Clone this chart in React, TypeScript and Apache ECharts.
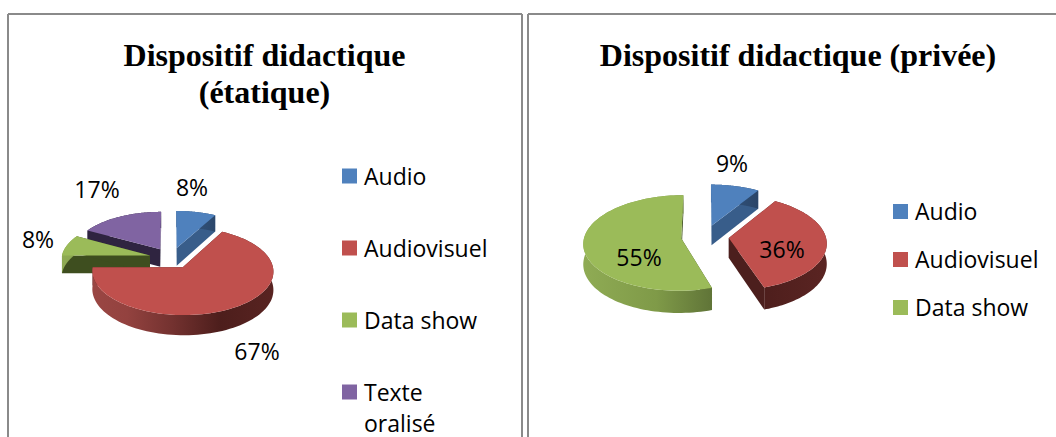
import React, { useEffect, useRef } from "react";
import * as echarts from "echarts";

const titleLeft = "Dispositif didactique\n(étatique)";
const titleRight = "Dispositif didactique (privée)";
const categoriesLeft = ["Audio", "Audiovisuel", "Data show", "Texte\noralisé"];
const valuesLeft = [8, 67, 8, 17];
const categoriesRight = ["Audio", "Audiovisuel", "Data show"];
const valuesRight = [9, 36, 55];

const TOP: Record<string, string> = { Audio: "#4f81bd", Audiovisuel: "#c0504d", "Data show": "#9bbb59", "Texte\noralisé": "#8064a2" };
const CUT: Record<string, string> = { Audio: "#385d8a", Audiovisuel: "#4c1f1d", "Data show": "#3e4e1f", "Texte\noralisé": "#2f2440" };
const RIM: Record<string, string[]> = {
  Audio: ["#4f81bd", "#385d8a", "#385d8a", "#2a4568", "#2a4568"],
  Audiovisuel: ["#a04a47", "#93423f", "#743230", "#4d1e1c", "#5a2422"],
  "Data show": ["#8fab54", "#7f9a48", "#64793a", "#465726", "#3e4e1f"],
  "Texte\noralisé": ["#2f2440", "#2f2440", "#2f2440", "#2f2440", "#2f2440"],
};
const RIM_AT = [0, 0.3, 0.5, 0.72, 1];

type Panel = {
  cx: number; cy: number; a: number; b: number; p: number; depth: number; explode: number;
  names: string[]; values: number[]; labels: number[][];
};

const panelLeft: Panel = {
  cx: 171.3, cy: 258, a: 88.5, b: 42, p: 0.087, depth: 18, explode: 0.25,
  names: categoriesLeft, values: valuesLeft,
  labels: [[192, 187], [257, 351], [38, 239], [97, 189]],
};
const panelRight: Panel = {
  cx: 705, cy: 236.6, a: 97, b: 47, p: 0.095, depth: 20, explode: 0.2465,
  names: categoriesRight, values: valuesRight,
  labels: [[732, 163], [782, 249], [639, 257]],
};

function project(P: Panel, u: number, v: number, down = false): number[] {
  const f = 1 / (1 + P.p * v);
  return [P.cx + P.a * u * f, P.cy - P.b * v * f + (down ? P.depth * f : 0)];
}

function sliceRenderer(P: Panel) {
  const total = P.values.reduce((s, v) => s + v, 0);
  return (params: any, api: any) => {
    const i = params.dataIndex;
    const val = api.value(0) as number;
    let before = 0;
    for (let k = 0; k < i; k++) before += P.values[k];
    const t0 = (before / total) * Math.PI * 2;
    const t1 = ((before + val) / total) * Math.PI * 2;
    const mid = (t0 + t1) / 2;
    const ou = P.explode * Math.sin(mid);
    const ov = P.explode * Math.cos(mid);
    const name = P.names[i];
    const top: number[][] = [];
    const rim: number[][] = [];
    const bottom: number[][] = [];
    const N = 96;
    for (let k = 0; k <= N; k++) {
      const t = t0 + ((t1 - t0) * k) / N;
      const u = ou + Math.sin(t);
      const v = ov + Math.cos(t);
      top.push(project(P, u, v));
      bottom.push(project(P, u, v, true));
    }
    rim.push(...top, ...bottom.slice().reverse());
    const apex = project(P, ou, ov);
    const apexDown = project(P, ou, ov, true);
    const base = 100 * Math.cos(mid) * -1;
    const z = 110 + Math.round(base);
    const x0 = P.cx - P.a * 1.25;
    const x1 = P.cx + P.a * 1.25;
    const grad = new echarts.graphic.LinearGradient(
      x0, 0, x1, 0,
      RIM[name].map((color, k) => ({ offset: RIM_AT[k], color })),
      true
    );
    const cutA = [apex, top[0], bottom[0], apexDown];
    const cutB = [apex, top[N], bottom[N], apexDown];
    return {
      type: "group",
      children: [
        { type: "polygon", z2: z, shape: { points: cutA }, style: { fill: CUT[name] } },
        { type: "polygon", z2: z, shape: { points: cutB }, style: { fill: CUT[name] } },
        { type: "polygon", z2: z + 1, shape: { points: rim }, style: { fill: grad } },
        { type: "polygon", z2: z + 2, shape: { points: [apex, ...top] }, style: { fill: TOP[name] } },
        {
          type: "text", z2: 500,
          x: P.labels[i][0], y: P.labels[i][1],
          style: {
            text: val + "%", fill: "#000", font: "23px 'Open Sans'",
            align: "center", verticalAlign: "middle",
          },
        },
      ],
    };
  };
}

function pieSeries(P: Panel, id: string) {
  return {
    type: "custom", id, coordinateSystem: "none", silent: true,
    data: P.values.map((v, i) => ({ name: P.names[i], value: [v] })),
    renderItem: sliceRenderer(P),
  };
}

function legend(names: string[], x: number, ys: number[]) {
  const out: any[] = [];
  names.forEach((n, i) => {
    out.push({ type: "rect", x, y: ys[i] - 7.5, shape: { width: 15, height: 15 }, style: { fill: TOP[n] } });
    out.push({
      type: "text", x: x + 22, y: ys[i] - 16,
      style: { text: n, fill: "#000", font: "23px 'Open Sans'", lineHeight: 31, verticalAlign: "top" },
    });
  });
  return out;
}

function frame(x0: number, x1: number, y0: number) {
  const st = { stroke: "#8a8a8a", lineWidth: 2 };
  return [
    { type: "line", shape: { x1: x0, y1: y0, x2: x1, y2: y0 }, style: st },
    { type: "line", shape: { x1: x0, y1: y0, x2: x0, y2: 437 }, style: st },
    { type: "line", shape: { x1: x1, y1: y0, x2: x1, y2: 437 }, style: st },
  ];
}

export default function App() {
  const ref = useRef<HTMLDivElement>(null);
  useEffect(() => {
    const chart = echarts.init(ref.current!, undefined, { renderer: "svg" });
    const titleStyle = { fontFamily: "'Liberation Serif'", fontWeight: "bold" as const, fontSize: 32, color: "#000", lineHeight: 37 };
    chart.setOption({
      animation: false,
      backgroundColor: "#fff",
      title: [
        { text: titleLeft, left: 264.5, top: 36, textAlign: "center", padding: 0, textStyle: titleStyle },
        { text: titleRight, left: 798, top: 36, textAlign: "center", padding: 0, textStyle: titleStyle },
      ],
      graphic: [
        ...frame(8, 522, 14),
        ...frame(528, 1057, 14),
        ...legend(categoriesLeft, 342, [176, 248, 320, 392]),
        ...legend(categoriesRight, 893, [211.5, 259.5, 307.5]),
      ],
      series: [pieSeries(panelLeft, "left"), pieSeries(panelRight, "right")],
    });
    return () => chart.dispose();
  }, []);
  return <div ref={ref} style={{ position: "fixed", left: 0, top: 0, width: 1056, height: 437 }} />;
}
